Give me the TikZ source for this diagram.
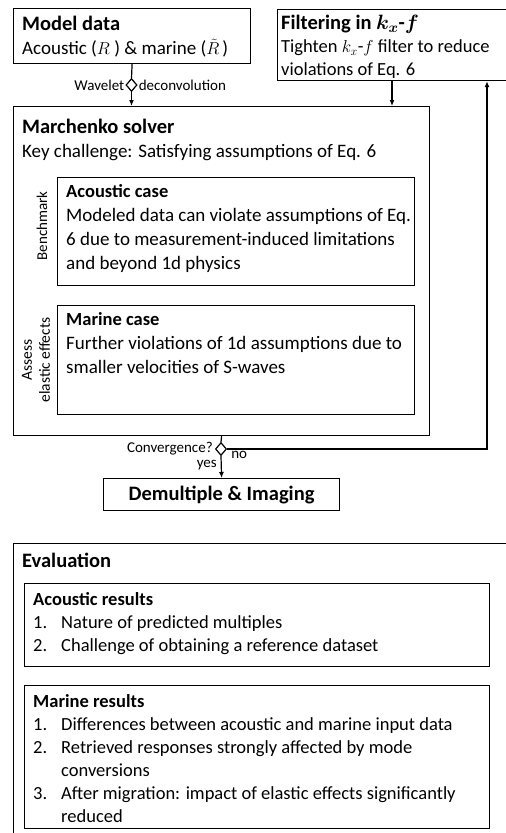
\documentclass[tikz,border=0pt]{standalone}
\usepackage{amsmath}
\usepackage{fontspec}
\setmainfont{Carlito}
\usetikzlibrary{arrows.meta}
\usetikzlibrary{positioning}
\usetikzlibrary{shapes.geometric}
\tikzset{frame/.style = {draw, line width=1.2pt, anchor=north west, inner sep=0pt},
         txt/.style = {anchor=north west, align=left, inner sep=0pt,
                       font=\fontsize{19}{24}\selectfont},
         lbl/.style = {inner sep=1pt, font=\fontsize{15}{18}\selectfont},
         dec/.style = {diamond, draw, fill=white, line width=1.2pt, inner sep=0pt,
                       minimum width=11pt, minimum height=13pt},
         link/.style = {line width=1.2pt},
         flow/.style = {link, -{Latex[length=6pt, width=5pt]}}}
\newcommand{\boxtitle}[1]{{\fontsize{20.5}{24}\selectfont\bfseries #1}}
\newcommand{\casetitle}[1]{{\fontsize{18.5}{24}\selectfont\bfseries #1}}

\begin{document}
\begin{tikzpicture}[x=1pt, y=-1pt]
    \useasboundingbox (0, 0) rectangle (506, 833);
    \clip (0, 0) rectangle (506, 833);

    % upper part
    \node [frame, minimum width=237pt, minimum height=55pt] (model) at (13, 8) {};
    \node [txt] at ([shift={(9, 8)}] model.north west)
        {\boxtitle{Model data}\\ Acoustic ($R$\ ) \& marine ($\tilde{R}\,$)};

    \node [frame, minimum width=250pt, minimum height=71pt] (filt) at (277, 9) {};
    \node [txt, font=\fontsize{18.5}{23}\selectfont] at ([shift={(4, 6)}] filt.north west)
        {\boxtitle{Filtering in $\boldsymbol{k_x}$\textbf{-}$\boldsymbol{f}$}\\
         Tighten $k_x$-$f$ filter to reduce\\ violations of Eq. 6};

    \node [frame, minimum width=416pt, minimum height=329pt] (mar) at (13, 106) {};
    \node [txt] at ([shift={(9, 13)}] mar.north west)
        {\boxtitle{Marchenko solver}\\ Key challenge: Satisfying assumptions of Eq. 6};

    \node [frame, minimum width=357pt, minimum height=108pt] (acase) at (57, 177) {};
    \node [txt] at ([shift={(9, 7)}] acase.north west)
        {\casetitle{Acoustic case}\\ Modeled data can violate assumptions of Eq.\\
         6 due to measurement-induced limitations\\ and beyond 1d physics};
    \node [lbl, rotate=90] at (42, 226) {Benchmark};

    \node [frame, minimum width=357pt, minimum height=109pt] (mcase) at (57, 305) {};
    \node [txt] at ([shift={(9, 7)}] mcase.north west)
        {\casetitle{Marine case}\\ Further violations of 1d assumptions due to\\
         smaller velocities of S-waves};
    \node [lbl, rotate=90, align=center, font=\fontsize{15.5}{18}\selectfont]
        at (36, 360) {Assess\\ elastic effects};

    \node [frame, minimum width=236pt, minimum height=32pt] (dem) at (103, 478)
        {\boxtitle{Demultiple \& Imaging}};

    % connectors
    \node [dec] (wav) at (131.5, 85) {};
    \draw [link] (model.south) -- (wav.north);
    \draw [flow] (wav.south) -- (wav.south |- mar.north);
    \node [lbl, left=0pt of wav] {Wavelet};
    \node [lbl, right=0pt of wav] {deconvolution};

    \coordinate (fdown) at (392, 0);
    \draw [flow] (fdown |- filt.south) -- (fdown |- mar.north);

    \node [dec] (conv) at (221, 449) {};
    \draw [link] (mar.south) -- (conv.north);
    \draw [flow] (conv.south) -- (dem.north);
    \coordinate (fup) at (487, 0);
    \draw [flow] (conv.east) -| (fup |- filt.south);
    \node [lbl, left=1pt of conv] {Convergence?};
    \node [lbl, anchor=north west] at ([shift={(3, 1)}] conv.east) {no};
    \node [lbl, anchor=east] at (218, 465) {yes};

    % evaluation
    \node [frame, minimum width=520pt, minimum height=330pt] (eval) at (13, 543) {};
    \node [txt] at ([shift={(9, 10)}] eval.north west) {\boxtitle{Evaluation}};

    \node [frame, minimum width=465pt, minimum height=83pt] (ares) at (24, 583) {};
    \node [txt, font=\fontsize{18.5}{23}\selectfont] at ([shift={(9, 9)}] ares.north west)
        {\casetitle{Acoustic results}\\
         \begin{tabular}[t]{@{}p{28pt}@{}l@{}}
           1. & Nature of predicted multiples\\
           2. & Challenge of obtaining a reference dataset
         \end{tabular}};

    \node [frame, minimum width=465pt, minimum height=143pt] (mres) at (24, 685) {};
    \node [txt, font=\fontsize{18.5}{23}\selectfont] at ([shift={(9, 9)}] mres.north west)
        {\casetitle{Marine results}\\
         \begin{tabular}[t]{@{}p{28pt}@{}l@{}}
           1. & Differences between acoustic and marine input data\\
           2. & Retrieved responses strongly affected by mode\\
              & conversions\\
           3. & After migration: impact of elastic effects significantly\\
              & reduced
         \end{tabular}};
\end{tikzpicture}
\end{document}
